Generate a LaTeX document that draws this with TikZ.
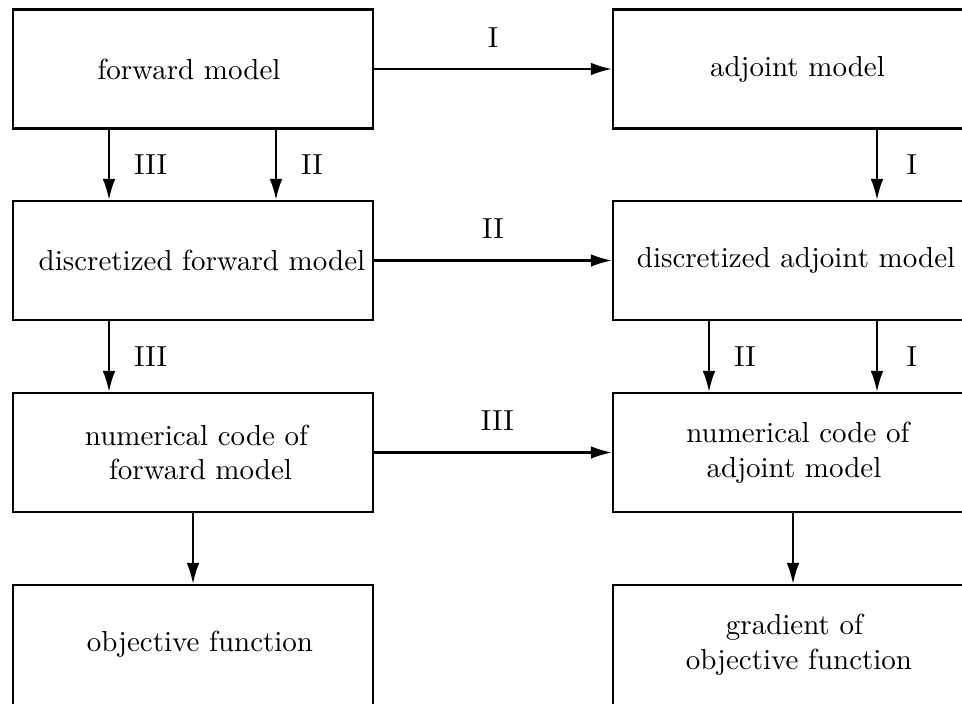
\documentclass[tikz,border=0pt]{standalone}
\usetikzlibrary{arrows.meta}
\begin{document}
\begin{tikzpicture}[x=0.345pt,y=-0.345pt,
  box/.style={draw,line width=0.75pt,minimum width=124.2pt,minimum height=41.05pt,inner sep=0pt,align=center,anchor=center},
  arr/.style={line width=0.75pt,-{Latex[length=7.3pt,width=4.4pt]}},
  vlbl/.style={anchor=west,xshift=8.3pt,inner sep=0pt},
  hlbl/.style={yshift=11pt,inner sep=0pt}]
\useasboundingbox (0,0) rectangle (962,704);
\clip (0,0) rectangle (962,704);
% boxes
\node[box] (fm)  at (193,69) {forward model\hspace{2.76pt}};
\node[box] (am)  at (793,69) {\hspace{3.1pt}adjoint model};
\node[box] (dfm) at (193,260.5) {\hspace{6.2pt}discretized forward model};
\node[box] (dam) at (793,260.5) {\hspace{2.1pt}discretized adjoint model};
\node[box] (nfm) at (193,452.5) {\hspace{2.4pt}numerical code of\\\hspace{5.2pt}forward model};
\node[box] (nam) at (793,452.5) {\hspace{3.4pt}numerical code of\\\hspace{0.7pt}adjoint model};
\node[box,minimum height=49.3pt] (of) at (193,656.5) {};
\node[box,minimum height=49.3pt] (gf) at (793,656.5) {};
\node[inner sep=0pt,align=center] (oft) at (193,644.5) {\hspace{4.8pt}objective function};
\node[inner sep=0pt,align=center] (gft) at (793,644.5) {\hspace{1pt}gradient of\\\hspace{4.1pt}objective function};
% x positions
\coordinate (xa) at (109,0);
\coordinate (xb) at (276,0);
\coordinate (xc) at (709,0);
\coordinate (xd) at (877,0);
% horizontal arrows
\draw[arr] (fm) -- node[hlbl] (l1) {I} (am);
\draw[arr] (dfm) -- node[hlbl] (l2) {II} (dam);
\draw[arr] (nfm) -- node[hlbl,xshift=1.5pt] (l3) {III} (nam);
% vertical arrows
\draw[arr] (xa |- fm.south) -- node[vlbl] (l4) {III} (xa |- dfm.north);
\draw[arr] (xb |- fm.south) -- node[vlbl] (l5) {II} (xb |- dfm.north);
\draw[arr] (xd |- am.south) -- node[vlbl,xshift=1.5pt] (l6) {I} (xd |- dam.north);
\draw[arr] (xa |- dfm.south) -- node[vlbl] (l7) {III} (xa |- nfm.north);
\draw[arr] (xc |- dam.south) -- node[vlbl] (l8) {II} (xc |- nam.north);
\draw[arr] (xd |- dam.south) -- node[vlbl,xshift=1.5pt] (l9) {I} (xd |- nam.north);
\draw[arr] (nfm) -- (of);
\draw[arr] (nam) -- (gf);
\end{tikzpicture}
\end{document}
